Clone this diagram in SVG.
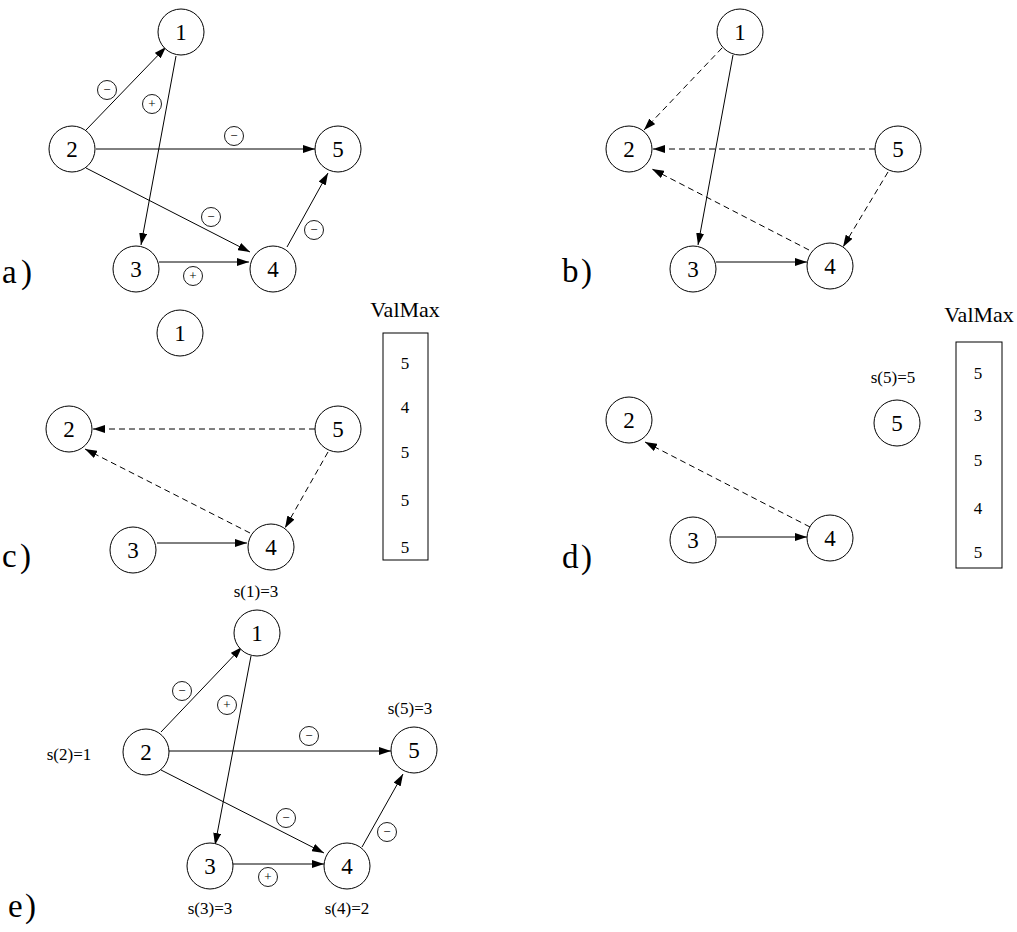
<svg xmlns="http://www.w3.org/2000/svg" width="1017" height="932" viewBox="0 0 1017 932">
<defs>
<marker id="ah" markerUnits="userSpaceOnUse" markerWidth="12" markerHeight="8" refX="12" refY="4" orient="auto">
<path d="M0,0 L12,4 L0,8 z" fill="#000"/>
</marker>
<style>
.n circle{fill:#fff;stroke:#000;stroke-width:1}
.n text{font-family:"Liberation Serif",serif;font-size:23px;text-anchor:middle}
.e line{stroke:#000;stroke-width:1;marker-end:url(#ah)}
.e line.d{stroke-dasharray:6 4}
.lb circle{fill:#fff;stroke:#000;stroke-width:0.9}
.lb text{font-family:"Liberation Serif",serif;font-size:13px;text-anchor:middle;fill:#000}
.pl{font-family:"Liberation Serif",serif;font-size:33px}
.s{font-family:"Liberation Serif",serif;font-size:17px;text-anchor:middle}
.vm{font-family:"Liberation Serif",serif;font-size:22px;text-anchor:middle}
.v{font-family:"Liberation Serif",serif;font-size:17px;text-anchor:middle}
.box{fill:none;stroke:#000;stroke-width:1}
</style>
</defs>
<rect width="1017" height="932" fill="#fff"/>

<!-- connectors -->
<g id="connectors" class="e">
<!-- a -->
<line x1="86" y1="130" x2="166" y2="47"/>
<line x1="176" y1="56" x2="141" y2="245"/>
<line x1="96" y1="149" x2="315" y2="149"/>
<line x1="86" y1="168" x2="250" y2="252"/>
<line x1="159" y1="262" x2="249" y2="262"/>
<line x1="287" y1="247" x2="328" y2="173"/>
<!-- b -->
<line class="d" x1="722" y1="48" x2="644" y2="130"/>
<line x1="733" y1="55" x2="698" y2="245"/>
<line class="d" x1="875" y1="149" x2="653" y2="149"/>
<line class="d" x1="809" y1="250" x2="652" y2="169"/>
<line class="d" x1="888" y1="172" x2="843" y2="247"/>
<line x1="716" y1="262" x2="807" y2="262"/>
<!-- c -->
<line class="d" x1="315" y1="429" x2="93" y2="429"/>
<line class="d" x1="250" y1="533" x2="85" y2="449"/>
<line class="d" x1="328" y1="452" x2="285" y2="528"/>
<line x1="157" y1="543" x2="247" y2="543"/>
<!-- d -->
<line class="d" x1="810" y1="527" x2="645" y2="442"/>
<line x1="717" y1="537" x2="807" y2="537"/>
<!-- e -->
<line x1="161" y1="732" x2="242" y2="647"/>
<line x1="251" y1="656" x2="215" y2="845"/>
<line x1="169" y1="751" x2="391" y2="751"/>
<line x1="161" y1="770" x2="324" y2="853"/>
<line x1="233" y1="864" x2="324" y2="864"/>
<line x1="362" y1="847" x2="403" y2="774"/>
</g>

<!-- edge labels -->
<g id="edge-labels" class="lb">
<g><circle cx="107" cy="90" r="9.5"/><text x="107" y="94">−</text></g>
<g><circle cx="152" cy="104" r="9.5"/><text x="152" y="108">+</text></g>
<g><circle cx="234" cy="136" r="9.5"/><text x="234" y="140">−</text></g>
<g><circle cx="211" cy="217" r="9.5"/><text x="211" y="221">−</text></g>
<g><circle cx="314" cy="230" r="9.5"/><text x="314" y="234">−</text></g>
<g><circle cx="193" cy="276" r="9.5"/><text x="193" y="280">+</text></g>

<g><circle cx="182" cy="691" r="9.5"/><text x="182" y="695">−</text></g>
<g><circle cx="227" cy="705" r="9.5"/><text x="227" y="709">+</text></g>
<g><circle cx="309" cy="736" r="9.5"/><text x="309" y="740">−</text></g>
<g><circle cx="286" cy="818" r="9.5"/><text x="286" y="822">−</text></g>
<g><circle cx="387" cy="832" r="9.5"/><text x="387" y="836">−</text></g>
<g><circle cx="268" cy="877" r="9.5"/><text x="268" y="881">+</text></g>
</g>

<!-- panel a nodes -->
<g id="a1" class="n"><circle cx="181" cy="32" r="23"/><text x="181" y="40">1</text></g>
<g id="a2" class="n"><circle cx="72" cy="149" r="23"/><text x="72" y="157">2</text></g>
<g id="a3" class="n"><circle cx="136" cy="269" r="23"/><text x="136" y="277">3</text></g>
<g id="a4" class="n"><circle cx="273" cy="269" r="23"/><text x="273" y="277">4</text></g>
<g id="a5" class="n"><circle cx="338" cy="149" r="23"/><text x="338" y="157">5</text></g>
<text class="pl" x="2" y="283" textLength="30">a)</text>

<!-- panel b nodes -->
<g id="b1" class="n"><circle cx="740" cy="32" r="23"/><text x="740" y="40">1</text></g>
<g id="b2" class="n"><circle cx="629" cy="149" r="23"/><text x="629" y="157">2</text></g>
<g id="b3" class="n"><circle cx="693" cy="269" r="23"/><text x="693" y="277">3</text></g>
<g id="b4" class="n"><circle cx="830" cy="266" r="23"/><text x="830" y="274">4</text></g>
<g id="b5" class="n"><circle cx="898" cy="149" r="23"/><text x="898" y="157">5</text></g>
<text class="pl" x="562" y="282" textLength="30">b)</text>

<!-- panel c nodes -->
<g id="c1" class="n"><circle cx="180" cy="333" r="23"/><text x="180" y="341">1</text></g>
<g id="c2" class="n"><circle cx="69" cy="429" r="23"/><text x="69" y="437">2</text></g>
<g id="c3" class="n"><circle cx="133" cy="550" r="23"/><text x="133" y="558">3</text></g>
<g id="c4" class="n"><circle cx="271" cy="547" r="23"/><text x="271" y="555">4</text></g>
<g id="c5" class="n"><circle cx="338" cy="429" r="23"/><text x="338" y="437">5</text></g>
<g id="c-valmax">
<text class="vm" x="405" y="317">ValMax</text>
<rect class="box" x="383" y="333" width="45" height="227"/>
<text class="v" x="405" y="369">5</text>
<text class="v" x="405" y="413">4</text>
<text class="v" x="405" y="458">5</text>
<text class="v" x="405" y="506">5</text>
<text class="v" x="405" y="553">5</text>
</g>
<text class="pl" x="2" y="567" textLength="29">c)</text>

<!-- panel d nodes -->
<g id="d2" class="n"><circle cx="629" cy="420" r="23"/><text x="629" y="428">2</text></g>
<g id="d3" class="n"><circle cx="693" cy="540" r="23"/><text x="693" y="548">3</text></g>
<g id="d4" class="n"><circle cx="830" cy="538" r="23"/><text x="830" y="546">4</text></g>
<g id="d5" class="n"><circle cx="897" cy="423" r="23"/><text x="897" y="431">5</text></g>
<text class="s" x="893" y="383">s(5)=5</text>
<g id="d-valmax">
<text class="vm" x="979" y="322">ValMax</text>
<rect class="box" x="956" y="342" width="46" height="226"/>
<text class="v" x="978" y="379">5</text>
<text class="v" x="978" y="421">3</text>
<text class="v" x="978" y="466">5</text>
<text class="v" x="978" y="514">4</text>
<text class="v" x="978" y="558">5</text>
</g>
<text class="pl" x="562" y="568" textLength="30">d)</text>

<!-- panel e nodes -->
<g id="e1" class="n"><circle cx="257" cy="633" r="23"/><text x="257" y="641">1</text></g>
<g id="e2" class="n"><circle cx="146" cy="752" r="23"/><text x="146" y="760">2</text></g>
<g id="e3" class="n"><circle cx="210" cy="866" r="23"/><text x="210" y="874">3</text></g>
<g id="e4" class="n"><circle cx="347" cy="866" r="23"/><text x="347" y="874">4</text></g>
<g id="e5" class="n"><circle cx="414" cy="750" r="23"/><text x="414" y="758">5</text></g>
<text class="s" x="256" y="597">s(1)=3</text>
<text class="s" x="69" y="760">s(2)=1</text>
<text class="s" x="410" y="714">s(5)=3</text>
<text class="s" x="210" y="914">s(3)=3</text>
<text class="s" x="347" y="914">s(4)=2</text>
<text class="pl" x="8" y="917" textLength="28">e)</text>
</svg>
